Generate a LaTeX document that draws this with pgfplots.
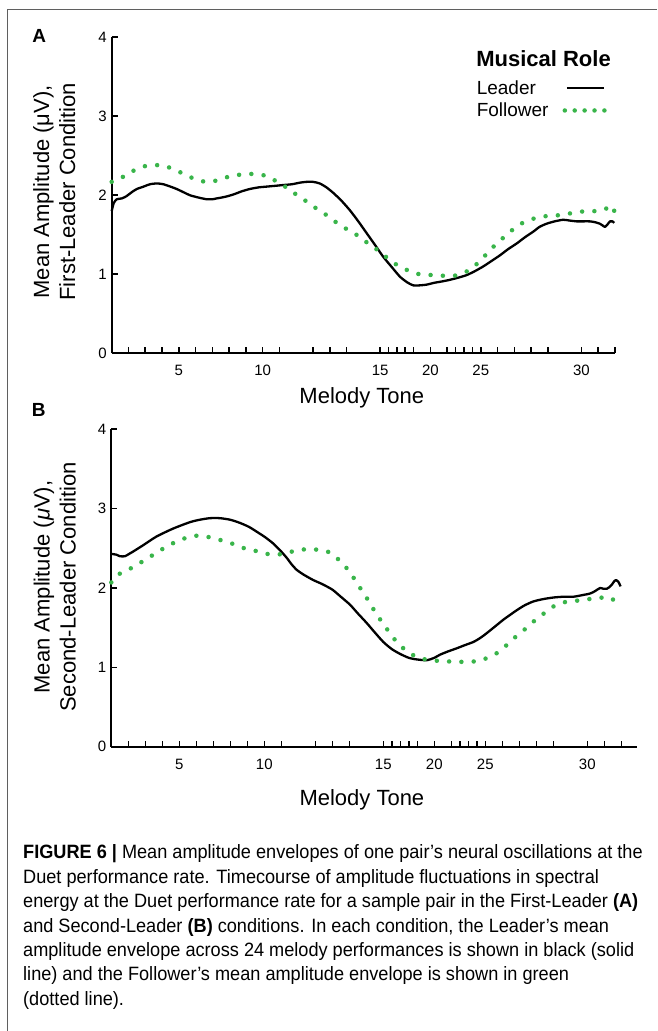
\documentclass[border=0pt]{standalone}
\usepackage{fontspec}
\setmainfont{Liberation Sans}
\newfontfamily\capfont[FakeStretch=0.94]{Liberation Sans}
\usepackage{pgfplots}
\pgfplotsset{compat=1.18}
\definecolor{fgreen}{RGB}{57,181,74}
\definecolor{framegray}{RGB}{95,95,95}

\pgfplotsset{
  legend image code/.code={\draw[#1] (2pt,0pt) -- (38.7pt,0pt);},
  panel/.style={
    scale only axis,
    axis lines=left,
    axis line style={-, line width=2pt, black},
    tick align=inside,
    major tick length=6pt,
    every tick/.style={black, line width=1.6pt},
    ymin=0, ymax=4, xmin=0,
    ytick={0,1,2,3,4}, yticklabels={0,1,2,3,4},
    xtick={1,2,3,4,5,6,7,8,9,10,12,13,14,16,16.5,17,17.5,18,19,20,20.5,21,21.5,22,23,24,25,26,28,29,30},
    xticklabels={,,,5,,,,,10,,,,,15,,,,,20,,,,,25,,,,,30,,},
    tick label style={font=\fontsize{15}{17}\selectfont},
    yticklabel style={xshift=-1.5pt},
    clip=false,
  },
  leader/.style={black, line width=2.3pt, line join=round, smooth, tension=0.4},
  follower/.style={color=fgreen, line width=4.5pt, line cap=round, dash pattern=on 0pt off 12.3pt, smooth, tension=0.4},
  folleg/.style={legend image code/.code={\draw[##1, dash pattern=on 0pt off 9.9pt] (0pt,0pt) -- (39.7pt,0pt);}},
}

\begin{document}
\begin{tikzpicture}
\path[use as bounding box] (0pt,0pt) rectangle (657pt,1031pt);
\fill[white] (0pt,0pt) rectangle (657pt,1031pt);
\draw[framegray, line width=1.2pt] (7.3pt,0pt) -- (7.3pt,1021.7pt) -- (657pt,1021.7pt);

% ---------------- Panel A ----------------
\begin{axis}[panel,
  at={(111.7pt,677.7pt)}, anchor=south west,
  width=503.3pt, height=316pt, xmax=30,
  xticklabel style={yshift=-8.5pt},
  xlabel={Melody Tone},
  xlabel style={font=\fontsize{22}{26}\selectfont, at={(axis description cs:0.497,-0.1604)}, anchor=base},
  ylabel={Mean Amplitude (μV),\\First-Leader Condition},
  ylabel style={font=\fontsize{22}{26}\selectfont, align=center, at={(axis description cs:-0.114,0.511)}, anchor=center},
  legend plot pos=right,
  legend cell align=left,
  legend style={at={(axis description cs:0.721,0.87)}, anchor=north west, draw=none, fill=none,
    font=\fontsize{19}{23}\selectfont, inner sep=0pt, column sep=12pt, row sep=3pt},
]
\addplot[leader] coordinates {
(0,1.80) (0.12,1.90) (0.3,1.95) (0.6,1.96) (0.89,1.99) (1.2,2.04) (1.5,2.08) (1.9,2.11) (2.28,2.14) (2.7,2.15)
(3.08,2.14) (3.5,2.11) (3.87,2.08) (4.27,2.04) (4.67,2.00) (5.2,1.97) (5.66,1.95) (6.0,1.95) (6.25,1.96) (6.75,1.98)
(7.25,2.01) (7.75,2.05) (8.24,2.08) (8.75,2.10) (9.24,2.11) (9.75,2.12) (10.23,2.13) (10.75,2.14) (11.22,2.16) (11.6,2.17)
(12.0,2.17) (12.4,2.15) (12.8,2.10) (13.21,2.03) (13.7,1.93) (14.2,1.81) (14.7,1.67) (15.2,1.52) (15.7,1.37) (16.19,1.22)
(16.7,1.09) (17.18,0.97) (17.6,0.90) (17.97,0.86) (18.37,0.86) (18.8,0.87) (19.17,0.89) (19.7,0.91) (20.16,0.93) (20.7,0.96)
(21.16,0.99) (21.65,1.04) (22.15,1.10) (22.65,1.17) (23.14,1.24) (23.64,1.32) (24.14,1.39) (24.64,1.47) (25.13,1.54) (25.5,1.60)
(25.92,1.64) (26.4,1.67) (26.91,1.69) (27.3,1.68) (27.71,1.67) (28.1,1.67) (28.5,1.67) (28.8,1.66) (29.1,1.64) (29.25,1.62)
(29.4,1.60) (29.55,1.63) (29.7,1.67) (29.85,1.67) (29.95,1.65)
};
\addlegendentry{Leader}
\addplot[follower, folleg] coordinates {
(0,2.17) (0.5,2.21) (1.0,2.28) (1.5,2.33) (2.0,2.37) (2.5,2.38) (3.03,2.38) (3.57,2.34) (4.1,2.29) (4.6,2.24)
(5.0,2.20) (5.34,2.18) (5.7,2.17) (6.1,2.18) (6.5,2.20) (6.88,2.23) (7.25,2.25) (7.63,2.26) (8.0,2.27) (8.4,2.27)
(8.8,2.26) (9.16,2.25) (9.45,2.22) (9.71,2.19) (10.2,2.13) (10.67,2.06) (11.2,1.98) (11.7,1.91) (12.22,1.83) (12.8,1.75)
(13.3,1.67) (13.77,1.60) (14.3,1.54) (14.8,1.47) (15.29,1.39) (15.83,1.31) (16.35,1.22) (16.84,1.14) (17.34,1.08) (17.88,1.03)
(18.37,1.00) (19.13,0.99) (19.9,0.98) (20.4,0.98) (20.72,1.00) (21.1,1.03) (21.45,1.07) (21.95,1.17) (22.45,1.28) (22.94,1.39)
(23.44,1.48) (23.93,1.57) (24.49,1.65) (25.23,1.71) (26.02,1.74) (26.82,1.75) (27.55,1.78) (28.3,1.80) (29.06,1.80) (29.46,1.83)
(29.76,1.87) (29.9,1.85) (30.0,1.75)
};
\addlegendentry{Follower}
\node[anchor=base west, font=\bfseries\fontsize{19}{22}\selectfont, inner sep=0pt] at (axis description cs:-0.158,0.982) {A};
\node[anchor=base west, font=\bfseries\fontsize{22}{26}\selectfont, inner sep=0pt] at (axis description cs:0.724,0.907) {Musical Role};
\end{axis}

% ---------------- Panel B ----------------
\begin{axis}[panel,
  at={(111.3pt,284.3pt)}, anchor=south west,
  width=525.3pt, height=317.4pt, xmax=30.9,
  xticklabel style={yshift=-9pt},
  xlabel={Melody Tone},
  xlabel style={font=\fontsize{22}{26}\selectfont, at={(axis description cs:0.477,-0.1837)}, anchor=base},
  ylabel={Mean Amplitude (\textit{μ}V),\\Second-Leader Condition},
  ylabel style={font=\fontsize{22}{26}\selectfont, align=center, at={(axis description cs:-0.1075,0.503)}, anchor=center},
]
\addplot[leader] coordinates {
(0,2.43) (0.3,2.42) (0.51,2.40) (0.8,2.40) (1.05,2.43) (1.29,2.46) (1.88,2.54) (2.67,2.65) (3.65,2.75) (4.63,2.83)
(5.2,2.86) (5.8,2.88) (6.39,2.88) (7.0,2.86) (7.57,2.82) (8.1,2.77) (8.55,2.71) (9.05,2.64) (9.53,2.56) (9.95,2.47)
(10.32,2.38) (10.6,2.30) (10.9,2.23) (11.3,2.17) (11.88,2.10) (12.4,2.05) (13.0,1.98) (13.5,1.89) (14.04,1.79) (14.5,1.68)
(15.02,1.56) (15.5,1.44) (16.0,1.32) (16.5,1.23) (16.98,1.17) (17.5,1.12) (17.96,1.10) (18.55,1.09) (19.0,1.12) (19.34,1.16)
(19.8,1.20) (20.32,1.24) (20.8,1.28) (21.3,1.32) (21.7,1.37) (22.08,1.43) (22.6,1.52) (23.06,1.60) (23.45,1.66) (23.85,1.72)
(24.3,1.78) (24.82,1.83) (25.4,1.86) (26.0,1.88) (26.6,1.89) (27.18,1.89) (27.7,1.91) (28.16,1.93) (28.45,1.96) (28.75,2.00)
(28.95,1.99) (29.14,1.99) (29.3,2.01) (29.44,2.04) (29.6,2.09) (29.7,2.10) (29.82,2.08) (29.96,2.02)
};
\addplot[follower] coordinates {
(0,2.07) (0.41,2.17) (0.94,2.22) (1.45,2.29) (1.98,2.35) (2.47,2.42) (2.92,2.48) (3.41,2.54) (3.88,2.59) (4.38,2.63)
(5.06,2.66) (5.77,2.64) (6.49,2.60) (7.24,2.55) (7.96,2.49) (8.67,2.46) (9.39,2.42) (10.12,2.43) (10.82,2.47) (11.55,2.49)
(12.27,2.48) (12.7,2.46) (13.0,2.43) (13.55,2.32) (14.0,2.21) (14.43,2.07) (14.79,1.95) (15.16,1.83) (15.51,1.70) (15.86,1.59)
(16.29,1.46) (16.75,1.33) (17.29,1.22) (17.96,1.13) (18.71,1.09) (19.47,1.08) (20.18,1.07) (20.9,1.07) (21.63,1.08) (22.12,1.12)
(22.61,1.17) (23.06,1.24) (23.53,1.34) (24.0,1.42) (24.49,1.51) (24.96,1.60) (25.45,1.68) (25.94,1.76) (26.63,1.82) (27.38,1.84)
(28.1,1.86) (28.81,1.88) (29.39,1.84) (29.92,1.93)
};
\node[anchor=base west, font=\bfseries\fontsize{19}{22}\selectfont, inner sep=0pt] at (axis description cs:-0.1515,1.04) {B};
\end{axis}

% ---------------- Caption ----------------
\begin{scope}[every node/.style={anchor=base west, inner sep=0pt, font=\capfont\fontsize{19.3}{22}\selectfont}]
\node at (23pt,172pt) {\textbf{FIGURE 6 |} Mean amplitude envelopes of one pair’s neural oscillations at the};
\node at (23pt,147.6pt) {Duet performance rate. Timecourse of amplitude fluctuations in spectral};
\node at (23pt,123.2pt) {energy at the Duet performance rate for a sample pair in the First-Leader \textbf{(A)}};
\node at (23pt,98.8pt) {and Second-Leader \textbf{(B)} conditions. In each condition, the Leader’s mean};
\node at (23pt,74.4pt) {amplitude envelope across 24 melody performances is shown in black (solid};
\node at (23pt,50pt) {line) and the Follower’s mean amplitude envelope is shown in green};
\node at (23pt,25.6pt) {(dotted line).};
\end{scope}
\end{tikzpicture}
\end{document}
